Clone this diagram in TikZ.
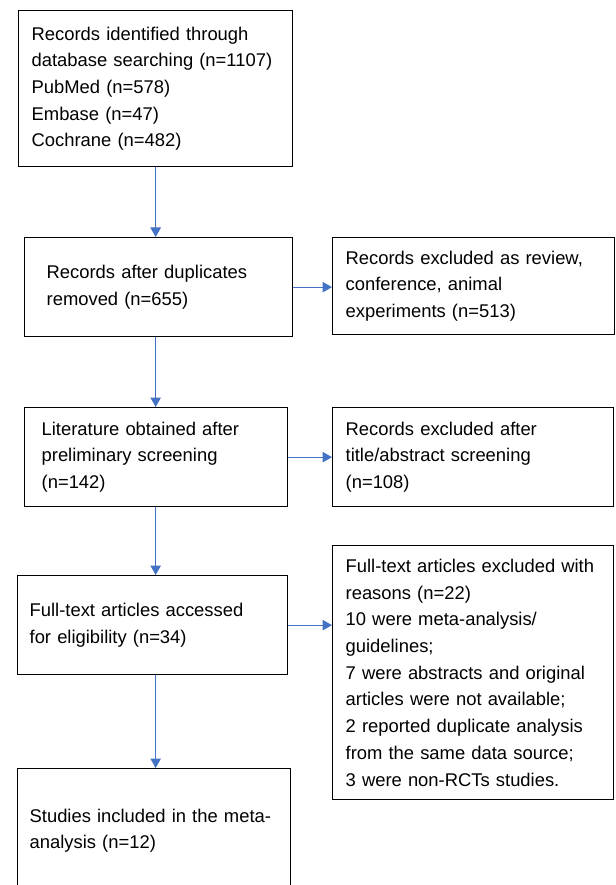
\documentclass[tikz,border=0pt]{standalone}
\usepackage{fontspec}
\setmainfont{Liberation Sans}
\usetikzlibrary{arrows.meta}
\definecolor{arrowblue}{RGB}{68,114,196}
\begin{document}
\begin{tikzpicture}[x=1pt,y=-1pt,
  box/.style={draw=black, line width=1.3pt, rectangle, anchor=north west, align=left,
    font=\fontsize{18.4}{26.7}\selectfont, inner ysep=0pt},
  arr/.style={draw=arrowblue, line width=1pt, -{Triangle[length=9.5pt,width=10.5pt]}, fill=arrowblue}]
\useasboundingbox (0,0) rectangle (615,885);
\clip (0,0) rectangle (615,885);
\node[box, minimum width=274pt, minimum height=156pt, text width=248pt, inner xsep=13pt] (b1) at (18,10)
  {Records identified through\\database searching (n=1107)\\PubMed (n=578)\\Embase (n=47)\\Cochrane (n=482)};
\node[box, minimum width=268pt, minimum height=99pt, text width=224pt, inner xsep=22pt] (b2) at (24,237)
  {Records after duplicates\\removed (n=655)};
\node[box, minimum width=282pt, minimum height=97pt, text width=256pt, inner xsep=13pt] (r2) at (332,237)
  {Records excluded as review,\\conference, animal\\experiments (n=513)};
\node[box, minimum width=263pt, minimum height=99pt, text width=229pt, inner xsep=17pt] (b3) at (24,407)
  {Literature obtained after\\preliminary screening\\(n=142)};
\node[box, minimum width=281pt, minimum height=99pt, text width=255pt, inner xsep=13pt] (r3) at (332,407)
  {Records excluded after\\title/abstract screening\\(n=108)};
\node[box, minimum width=270pt, minimum height=99pt, text width=246pt, inner xsep=12pt] (b4) at (17,575)
  {Full-text articles accessed\\for eligibility (n=34)};
\node[box, minimum width=281pt, minimum height=254pt, text width=255pt, inner xsep=13pt] (r4) at (332,545)
  {Full-text articles excluded with\\reasons (n=22)\\10 were meta-analysis/\\guidelines;\\7 were abstracts and original\\articles were not available;\\2 reported duplicate analysis\\from the same data source;\\3 were non-RCTs studies.};
\node[box, minimum width=273pt, minimum height=124pt, text width=249pt, inner xsep=12pt] (b5) at (17,768)
  {Studies included in the meta-\\analysis (n=12)};
\draw[arr] (b1.south) -- (b1.south |- b2.north);
\draw[arr] (b2.south -| b1.south) -- (b3.north -| b1.south);
\draw[arr] (b3.south -| b1.south) -- (b4.north -| b1.south);
\draw[arr] (b4.south -| b1.south) -- (b5.north -| b1.south);
\draw[arr] (b2.east) -- (r2.west |- b2.east);
\draw[arr] (b3.east) -- (r3.west |- b3.east);
\draw[arr] (b4.east) -- (r4.west |- b4.east);
\end{tikzpicture}
\end{document}
